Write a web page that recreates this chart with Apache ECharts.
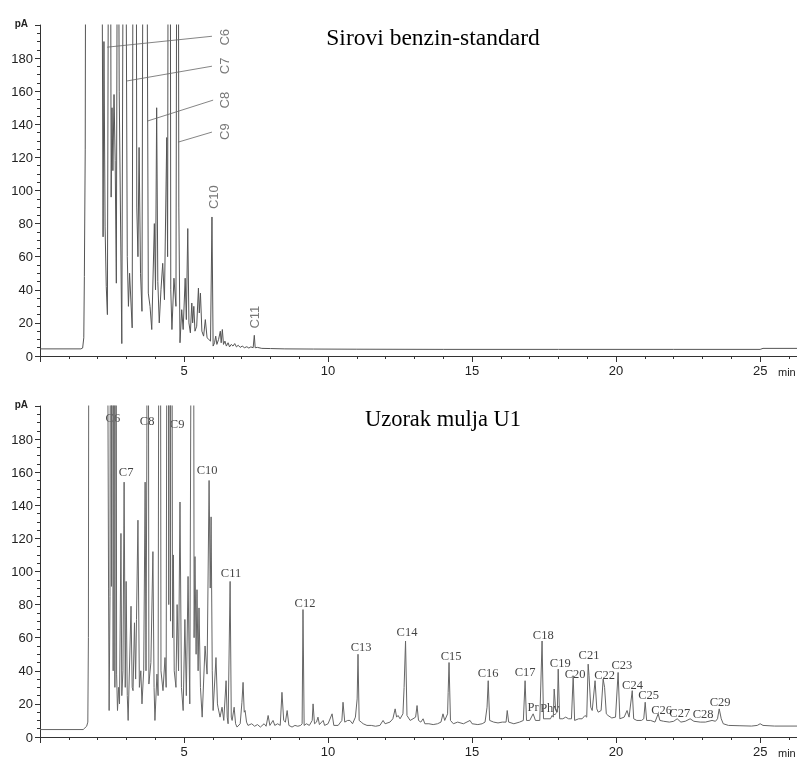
<!DOCTYPE html>
<html>
<head>
<meta charset="utf-8">
<script src="https://cdn.jsdelivr.net/npm/echarts@6/dist/echarts.min.js"></script>
<style>html,body{margin:0;padding:0;background:#fff}#c{width:797px;height:760px;will-change:transform;transform:translateZ(0)}</style>
</head>
<body>
<div id="c"></div>
<script>
// ---- data (time in min, signal in pA) ----
const titleTop = 'Sirovi benzin-standard';
const titleBottom = 'Uzorak mulja U1';

const topTrace = [
[0,4.3],[1.42,4.3],[1.48,4.8],[1.52,11],[1.54,48],[1.57,125],[1.60,420],[1.68,900],[2.08,900],
[2.14,320],[2.19,72],[2.22,190],[2.26,78],[2.30,42],[2.34,25],
[2.40,420],[2.44,360],[2.47,96],[2.50,150],[2.53,112],[2.57,158],[2.61,118],[2.65,44],
[2.70,380],[2.75,160],[2.84,7.5],
[2.90,330],[2.95,520],[2.99,230],[3.03,60],[3.07,30],[3.11,50],[3.20,17],
[3.26,520],[3.32,480],[3.36,90],[3.40,60],[3.44,126],[3.49,50],[3.54,27],
[3.60,460],[3.66,520],[3.71,280],[3.76,38],[3.82,30],[3.88,16],
[3.97,80],[4.01,40],[4.05,150],[4.09,45],[4.14,20],[4.20,40],[4.26,56],[4.32,34],
[4.40,132],[4.43,60],[4.47,520],[4.51,480],[4.54,40],[4.58,16],[4.65,47],[4.72,30],
[4.78,560],[4.82,90],[4.86,8],
[4.92,28],[4.97,16],[5.04,47],[5.08,22],[5.13,77],[5.17,20],[5.22,14],[5.27,32],[5.30,20],
[5.34,30],[5.38,15],[5.44,18],[5.50,41],[5.53,26],[5.57,38],[5.62,15],[5.68,12],[5.74,22],
[5.80,11],[5.86,10],[5.92,9],[5.97,84],[6.01,6],[6.06,8],[6.10,12],[6.14,7],[6.20,10],
[6.26,15],[6.29,8],[6.33,16],[6.37,7],[6.42,9],[6.47,6],[6.53,8],[6.58,5.5],[6.64,7],
[6.70,6],[6.76,7.5],[6.82,5.5],[6.88,6.5],[6.95,5.2],[7.02,6],[7.10,5],[7.18,5.6],
[7.25,4.8],[7.32,5.5],[7.40,5],[7.44,12.5],[7.47,5],[7.55,5.2],[7.70,4.6],[8.0,4.5],
[8.5,4.3],[9.5,4.2],[11,4.1],[14,4.0],[18,4.0],[22,4.0],[25.0,4.0],[25.1,4.6],[26.3,4.6]
];

const bottomTrace = [
[0,4.5],[1.50,4.5],[1.56,5.5],[1.62,6.5],[1.66,9],[1.68,60],[1.71,500],[1.80,900],[2.28,900],
[2.34,300],[2.38,90],[2.40,16],[2.43,85],[2.46,600],[2.48,91],[2.51,560],[2.54,40],[2.57,600],
[2.60,30],[2.63,520],[2.66,38],[2.69,16],[2.73,30],[2.76,20],[2.81,123],[2.84,25],[2.88,40],
[2.92,154],[2.96,30],[2.99,94],[3.03,25],[3.06,10],[3.16,79],[3.20,30],[3.23,28],[3.28,69],
[3.32,35],[3.35,71],[3.40,131],[3.45,30],[3.50,40],[3.54,20],[3.60,40],[3.65,154],[3.68,40],
[3.71,177],[3.74,600],[3.78,32],[3.85,45],[3.92,112],[3.96,30],[3.99,10],[4.06,38],[4.10,25],
[4.16,600],[4.20,40],[4.27,28],[4.34,48],[4.38,30],[4.44,600],[4.47,80],[4.50,600],[4.53,70],
[4.56,600],[4.60,60],[4.63,110],[4.66,40],[4.72,30],[4.76,80],[4.81,40],[4.86,142],[4.91,30],
[4.97,16],[5.03,71],[5.08,25],[5.14,97],[5.20,20],[5.31,600],[5.35,60],[5.38,109],[5.42,50],
[5.45,89],[5.49,40],[5.52,78],[5.57,30],[5.63,12],[5.73,55],[5.80,38],[5.87,155],[5.91,90],
[5.94,133],[5.98,40],[6.01,16],[6.11,48],[6.16,20],[6.18,18],[6.25,12],[6.32,18],[6.38,10],
[6.46,34],[6.50,12],[6.53,8],[6.60,94],[6.64,12],[6.67,10],[6.74,18],[6.79,8],[6.84,6],
[6.95,8],[7.01,21],[7.05,33],[7.09,15],[7.12,16],[7.17,9],[7.22,7],
[7.35,8],[7.45,6.5],[7.55,7.5],[7.65,6],[7.78,8],[7.85,6.5],[7.92,13],[7.98,7],[8.09,10],
[8.15,7],[8.25,8],[8.34,7],[8.40,27],[8.46,10],[8.52,9],[8.58,16],[8.64,7],[8.75,6],[8.85,7],
[8.95,6.5],[9.05,7],[9.10,8],[9.13,77],[9.17,7],[9.25,8],[9.35,7],[9.45,10],[9.48,20],
[9.53,8],[9.60,9],[9.65,12],[9.70,7.5],[9.83,10],[9.88,7],[10.0,8],[10.14,14],[10.20,7],
[10.35,7],[10.48,10],[10.52,21],[10.58,9],[10.68,10],[10.76,10],[10.85,8],[10.95,12],
[11.01,23],[11.04,50],[11.08,10],[11.15,9],[11.22,8],[11.35,7],[11.50,7],[11.65,6.5],
[11.80,7],[11.91,10],[11.98,8],[12.15,9],[12.25,11],[12.33,17],[12.38,12],[12.43,13],
[12.50,11],[12.60,14],[12.64,30],[12.69,58],[12.74,13],[12.85,10],[12.95,11],[13.04,12],
[13.09,19],[13.14,10],[13.22,9],[13.30,11],[13.36,8],[13.50,8],[13.65,7.5],[13.80,8],
[13.92,9],[13.99,14],[14.05,10],[14.15,14],[14.17,27],[14.20,45],[14.25,10],[14.35,8],
[14.50,9],[14.70,8],[14.93,10],[15.00,8],[15.20,7.5],[15.35,8],[15.45,9],[15.52,18],
[15.56,34],[15.61,10],[15.75,9],[15.90,8.5],[16.05,9],[16.18,9],[16.22,16],[16.27,9],
[16.45,8],[16.65,9],[16.78,10],[16.84,34],[16.89,10],[17.00,10],[17.12,14],[17.20,10],
[17.35,10],[17.43,58],[17.48,11],[17.60,11],[17.72,11],[17.78,13],[17.82,12],[17.85,29],
[17.90,17],[17.96,15],[17.99,41],[18.04,11],[18.15,11],[18.25,12],[18.35,11],[18.45,11],
[18.51,37],[18.56,10],[18.70,11],[18.82,11],[18.92,13],[18.98,12],[19.03,44],[19.06,37],
[19.12,18],[19.17,16],[19.27,34],[19.33,17],[19.38,15],[19.48,16],[19.55,35],[19.60,30],
[19.66,14],[19.72,13],[19.85,11.5],[19.98,12],[20.07,39],[20.13,11],[20.28,12],[20.38,16],
[20.45,12],[20.56,28],[20.61,11],[20.72,10],[20.88,10],[20.96,11],[21.01,21],[21.06,10],
[21.20,10],[21.35,9],[21.46,14],[21.52,10],[21.65,9.5],[21.85,9],[22.00,9.5],[22.12,11],
[22.25,9],[22.40,9.5],[22.57,11],[22.70,9.5],[22.92,9],[23.10,9],[23.33,10],[23.45,9.5],
[23.52,11],[23.58,17],[23.65,11],[23.72,8],[23.90,7],[24.30,6.8],[24.70,6.6],[24.90,7],
[25.00,8],[25.10,7],[25.50,6.6],[26.3,6.6]
];

// peak annotations: [name, time, pA]
const topPeakLabels = [
['C6',6.39,192.6],['C7',6.39,175.3],['C8',6.39,154.6],['C9',6.39,135.6],
['C10',6.01,96],['C11',7.43,23.5]
];
// leader lines: [t1, v1, t2, v2]
const topLeaders = [
[5.97,193.2,2.33,186.6],[5.97,175.1,2.99,166.1],[6.01,154.6,3.72,141.9],[5.97,135.3,4.79,129.2]
];
const bottomPeakLabels = [
['C6',2.53,192.6],['C7',2.99,160],['C8',3.72,190.8],['C9',4.76,189],['C10',5.80,161.2],
['C11',6.63,99],['C12',9.20,80.9],['C13',11.15,54.3],['C14',12.74,63.4],['C15',14.27,48.9],
['C16',15.56,38.6],['C17',16.84,39.3],['Pr',17.12,18.1],['Phy',17.70,17.5],['C18',17.47,61.6],
['C19',18.06,44.7],['C20',18.58,38.0],['C21',19.06,49.5],['C22',19.60,37.5],['C23',20.20,43.5],
['C24',20.57,31.4],['C25',21.13,25.6],['C26',21.58,16.6],['C27',22.21,14.5],['C28',23.02,13.9],
['C29',23.61,21.1]
];
const yMax = 200, xMax = 26.28;

// ---- chart ----
const chart = echarts.init(document.getElementById('c'), null, {renderer: 'svg'});
const sans = 'Liberation Sans, Arial, sans-serif';
const serif = 'Liberation Serif, Times New Roman, serif';

function xAxis(gi) {
  return {
    type: 'value', gridIndex: gi, min: 0, max: xMax, interval: 5,
    axisLine: {lineStyle: {color: '#333', width: 1}},
    axisTick: {length: 6, lineStyle: {color: '#333'}},
    minorTick: {show: true, splitNumber: 5, length: 3, lineStyle: {color: '#333'}},
    splitLine: {show: false},
    axisLabel: {color: '#222', fontSize: 13, fontFamily: sans, margin: 8, showMaxLabel: false,
      formatter: v => (v === 0 || v % 5 !== 0 ? '' : String(v))},
    name: 'min', nameLocation: 'end', nameGap: -19,
    nameTextStyle: {color: '#222', fontSize: 11, fontFamily: sans, align: 'left', verticalAlign: 'top', padding: [10, 0, 0, 0]}
  };
}
function yAxis(gi) {
  return {
    type: 'value', gridIndex: gi, min: 0, max: yMax, interval: 20,
    axisLine: {show: true, lineStyle: {color: '#333', width: 1}},
    axisTick: {show: true, length: 5, lineStyle: {color: '#333'}},
    minorTick: {show: true, splitNumber: 4, length: 3, lineStyle: {color: '#333'}},
    splitLine: {show: false},
    axisLabel: {color: '#222', fontSize: 13, fontFamily: sans, margin: 7,
      formatter: v => (v >= yMax ? '' : String(v))},
    name: 'pA', nameLocation: 'end', nameGap: 2,
    nameTextStyle: {color: '#222', fontSize: 10, fontWeight: 'bold', fontFamily: sans, align: 'right', verticalAlign: 'middle', padding: [0, 12, 0, 0]}
  };
}

chart.setOption({
  animation: false,
  grid: [
    {left: 40, right: 0, top: 25, height: 331},
    {left: 40, right: 0, top: 406, height: 331}
  ],
  xAxis: [xAxis(0), xAxis(1)],
  yAxis: [yAxis(0), yAxis(1)],
  graphic: [
    {type: 'text', x: 433, y: 37, style: {text: titleTop, font: '23.5px ' + serif, fill: '#000', textAlign: 'center', textVerticalAlign: 'middle'}},
    {type: 'text', x: 443, y: 418, style: {text: titleBottom, font: '22.5px ' + serif, fill: '#000', textAlign: 'center', textVerticalAlign: 'middle'}}
  ],
  series: [
    {
      type: 'line', xAxisIndex: 0, yAxisIndex: 0, data: topTrace, symbol: 'none', silent: true,
      lineStyle: {color: '#555', width: 1}, clip: true,
      markLine: {
        silent: true, symbol: 'none', label: {show: false},
        lineStyle: {color: '#666', width: 0.8, type: 'solid'},
        data: topLeaders.map(l => [{coord: [l[0], l[1]]}, {coord: [l[2], l[3]]}])
      }
    },
    {
      type: 'line', xAxisIndex: 1, yAxisIndex: 1, data: bottomTrace, symbol: 'none', silent: true,
      lineStyle: {color: '#666', width: 1}, clip: true
    },
    {
      type: 'scatter', xAxisIndex: 0, yAxisIndex: 0, silent: true, symbolSize: 0,
      itemStyle: {color: 'rgba(0,0,0,0)'},
      data: topPeakLabels.map(p => ({name: p[0], value: [p[1], p[2]]})),
      label: {show: true, position: [0, 0], rotate: 90, formatter: '{b}', color: '#555',
        fontSize: 13, fontFamily: sans, align: 'center', verticalAlign: 'middle', textBorderWidth: 0}
    },
    {
      type: 'scatter', xAxisIndex: 1, yAxisIndex: 1, silent: true, symbolSize: 0,
      itemStyle: {color: 'rgba(0,0,0,0)'},
      data: bottomPeakLabels.map(p => ({name: p[0], value: [p[1], p[2]]})),
      label: {show: true, position: [0, 0], formatter: '{b}', color: '#111',
        fontSize: 12.5, fontFamily: serif, align: 'center', verticalAlign: 'middle', textBorderWidth: 0}
    }
  ]
});
</script>
</body>
</html>
